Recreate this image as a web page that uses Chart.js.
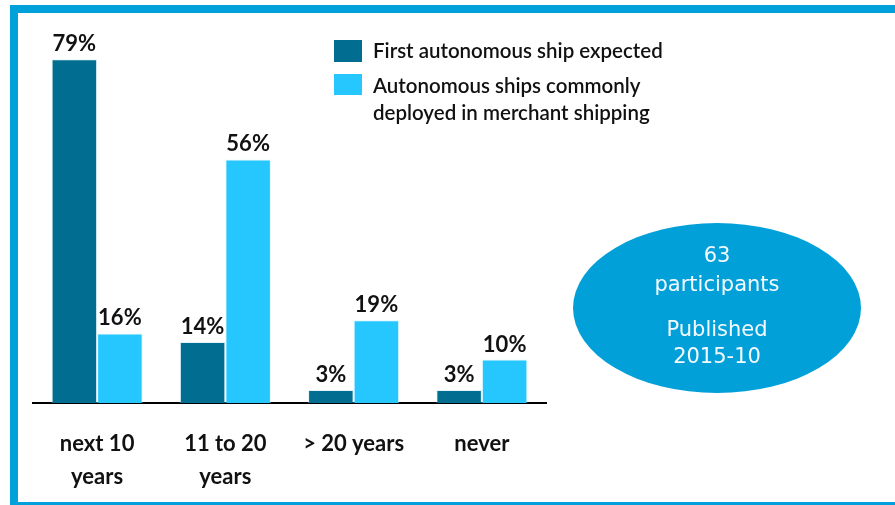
<!DOCTYPE html>
<html>
<head>
<meta charset="utf-8">
<script src="https://cdn.jsdelivr.net/npm/chart.js@4"></script>
<style>
  html, body { margin:0; padding:0; background:#fff; }
  #wrap { width:895px; height:505px; position:relative; }
  canvas { display:block; }
</style>
</head>
<body>
<div id="wrap"><canvas id="c" width="895" height="505"></canvas></div>
<script>
const categories = [['next 10','years'], ['11 to 20','years'], ['> 20 years'], ['never']];
const firstShipExpected = [79, 14, 3, 3];
const commonlyDeployed = [16, 56, 19, 10];
const seriesNames = ['First autonomous ship expected', ['Autonomous ships commonly', 'deployed in merchant shipping']];
const infoLines = [['63', 'participants'], ['Published', '2015-10']];

const DARK = '#006D91';
const LIGHT = '#26C6FE';
const FRAME = '#00A0DA';

const decor = {
  id: 'decor',
  beforeDraw(chart) {
    const ctx = chart.ctx;
    ctx.save();
    ctx.fillStyle = '#fff';
    ctx.fillRect(0, 0, chart.width, chart.height);
    ctx.strokeStyle = FRAME;
    ctx.lineWidth = 8;
    ctx.strokeRect(14, 9, 900, 497);
    ctx.restore();
  },
  afterDatasetsDraw(chart) {
    const ctx = chart.ctx;
    ctx.save();
    ctx.fillStyle = '#111';
    ctx.font = 'bold 22px Lato, "Open Sans", sans-serif';
    ctx.textAlign = 'center';
    ctx.textBaseline = 'alphabetic';
    chart.data.datasets.forEach((ds, di) => {
      const meta = chart.getDatasetMeta(di);
      meta.data.forEach((bar, i) => {
        ctx.fillText(ds.data[i] + '%', bar.x, bar.y - 8);
      });
    });
    ctx.font = '600 20.5px Lato, "Open Sans", sans-serif';
    ctx.textAlign = 'left';
    ctx.textBaseline = 'middle';
    ctx.fillStyle = DARK;
    ctx.fillRect(334, 40, 28, 22);
    ctx.fillStyle = LIGHT;
    ctx.fillRect(334, 74, 28, 21);
    ctx.fillStyle = '#111';
    ctx.fillText(seriesNames[0], 373, 51);
    ctx.fillText(seriesNames[1][0], 373, 86);
    ctx.fillText(seriesNames[1][1], 373, 113);
    ctx.fillStyle = '#02A0D8';
    ctx.beginPath();
    ctx.ellipse(717, 308, 144, 85, 0, 0, Math.PI * 2);
    ctx.fill();
    ctx.fillStyle = '#F4FAFF';
    ctx.textAlign = 'center';
    ctx.font = '21px "DejaVu Sans", Verdana, sans-serif';
    ctx.fillText(infoLines[0][0], 717, 257);
    ctx.fillText(infoLines[0][1], 717, 286);
    ctx.fillText(infoLines[1][0], 717, 331);
    ctx.fillText(infoLines[1][1], 717, 358);
    ctx.restore();
  }
};

new Chart(document.getElementById('c'), {
  type: 'bar',
  data: {
    labels: categories,
    datasets: [
      { label: 'First autonomous ship expected', data: firstShipExpected, backgroundColor: DARK,
        borderColor: 'rgba(200,230,240,0.5)', borderWidth: {top:1,left:1,right:1,bottom:0} },
      { label: 'Autonomous ships commonly deployed in merchant shipping', data: commonlyDeployed, backgroundColor: LIGHT,
        borderColor: 'rgba(200,240,255,0.5)', borderWidth: {top:1,left:1,right:1,bottom:0} }
    ]
  },
  options: {
    responsive: false,
    animation: false,
    devicePixelRatio: 1,
    layout: { padding: { left: 33, right: 349, top: 55, bottom: 0 } },
    plugins: { legend: { display: false }, tooltip: { enabled: false } },
    datasets: { bar: { categoryPercentage: 0.71, barPercentage: 1.0 } },
    scales: {
      x: {
        grid: { display: false, drawTicks: false },
        border: { display: true, color: '#000', width: 2 },
        ticks: { color: '#111', font: { family: 'Lato, "Open Sans", sans-serif', size: 22, weight: 'bold', lineHeight: 1.5 }, padding: 24, maxRotation: 0, autoSkip: false },
        afterFit(scale) { scale.height = 102; }
      },
      y: { display: false, min: 0, max: 80 }
    }
  },
  plugins: [decor]
});
</script>
</body>
</html>
